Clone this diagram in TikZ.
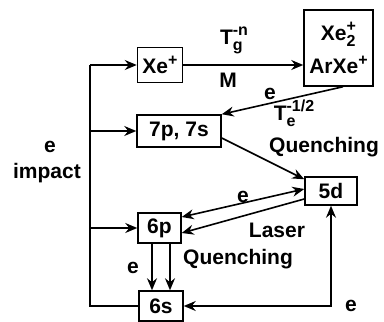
\documentclass[tikz,border=0pt]{standalone}
\usepackage{fontspec}
\setmainfont{Liberation Sans}
\usetikzlibrary{arrows.meta,calc}
\newcommand{\scr}[1]{{\fontsize{16}{16}\selectfont #1}}
\newcommand{\supsub}[3]{#1\makebox[0pt][l]{\raisebox{-6pt}{\scr{#2}}}\raisebox{9pt}{\scr{#3}}}
\newcommand{\supp}[2]{#1\raisebox{8pt}{\scr{#2}}}
\begin{document}
\begin{tikzpicture}[x=1pt,y=-1pt,
  font=\fontsize{21}{24}\selectfont\bfseries,
  box/.style={draw, line width=1.5pt, inner sep=0pt},
  ln/.style={line width=1.6pt},
  tip/.tip={Stealth[length=12pt,width=10pt,inset=4pt]},
  arr/.style={ln, -tip},
  darr/.style={ln, tip-tip},
  lbl/.style={inner sep=0pt}]
\useasboundingbox (0,0) rectangle (384,322);
% boxes
\node[box, minimum width=45pt, minimum height=35pt] (xe) at (160,65) {\supp{Xe}{+}};
\node[box, align=center, minimum width=69pt, minimum height=76pt] (xe2) at (338.5,48)
  {\supsub{Xe}{2}{+}\\[9pt]\supp{ArXe}{+}};
\node[box, minimum width=84pt, minimum height=32pt] (p7) at (179,131) {7p, 7s};
\node[box, minimum width=52pt, minimum height=28pt] (d5) at (331,191) {5d};
\node[box, minimum width=43pt, minimum height=30pt] (p6) at (159.5,228) {6p};
\node[box, minimum width=44pt, minimum height=30pt] (s6) at (161,306) {6s};
% trunk
\coordinate (trunk) at (90,0);
\coordinate (t1) at (xe.west -| trunk);
\coordinate (t2) at (p7.west -| trunk);
\coordinate (t3) at (p6.west -| trunk);
\draw[ln] (t1) |- (s6.west);
\draw[arr] (t1) -- (xe.west);
\draw[arr] (t2) -- (p7.west);
\draw[arr] (t3) -- (p6.west);
% connectors
\draw[arr] (xe.east) -- (xe2.west |- xe.east);
\draw[arr] ([xshift=4.5pt]xe2.south) -- (p7.north east);
\draw[arr] ([yshift=-7pt]p7.east) -- ([yshift=-3pt]d5.north west);
\draw[darr] ([yshift=11pt]p6.east) -- ([yshift=2pt]d5.west);
\draw[arr] ([yshift=-8pt]d5.west) -- ([yshift=-5pt]p6.east);
\draw[arr] ([xshift=-7.5pt]p6.south) -- ([xshift=-7.5pt]p6.south |- s6.north);
\draw[arr] ([xshift=10.5pt]p6.south) -- ([xshift=10.5pt]p6.south |- s6.north);
\draw[darr] (s6.east) -| (d5.south);
% labels
\node[lbl] (tg) at (234,40) {\supsub{T}{g}{-n}};
\node[lbl] (m) at (228,80) {M};
\node[lbl] (e1) at (270,94) {e};
\node[lbl] (te) at (294,113) {\supsub{T}{e}{-1/2}};
\node[lbl] (q1) at (324,147) {Quenching};
\node[lbl] (e2) at (243,197) {e};
\node[lbl] (las) at (277,230) {Laser};
\node[lbl] (q2) at (238,259) {Quenching};
\node[lbl] (e3) at (133,268) {e};
\node[lbl] (e4) at (351,306) {e};
\node[lbl] (e5) at (50,147) {e};
\node[lbl] (imp) at (47,173) {impact};
\end{tikzpicture}
\end{document}
